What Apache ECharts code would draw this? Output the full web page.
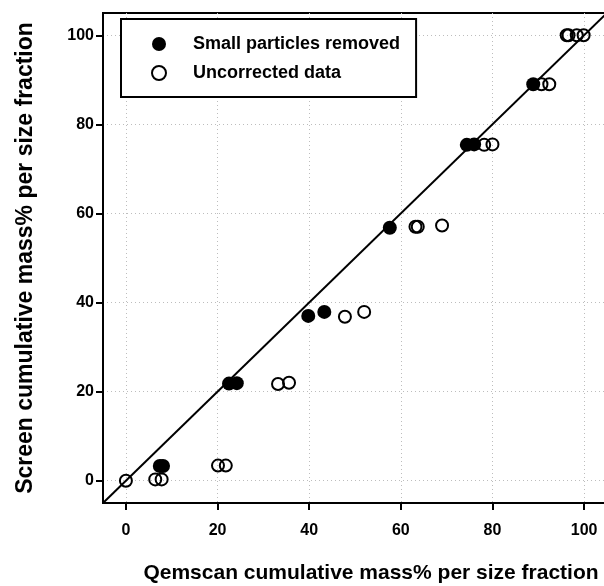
<!DOCTYPE html>
<html>
<head>
<meta charset="utf-8">
<script src="https://cdn.jsdelivr.net/npm/echarts@6/dist/echarts.min.js"></script>
<style>
  html, body { margin: 0; padding: 0; background: #fff; }
  #chart { width: 604px; height: 586px; }
</style>
</head>
<body>
<div id="chart"></div>
<script>
  // values
  var tickValues = [0, 20, 40, 60, 80, 100];

  var removedX = [7.4, 8.1, 22.5, 24.2, 39.8, 43.3, 57.6, 74.4, 76.0, 88.9];
  var removedY = [3.3, 3.3, 21.8, 21.9, 37.0, 37.9, 56.8, 75.4, 75.5, 89.0];

  var uncorrX = [0, 6.4, 7.8, 20.1, 21.8, 33.2, 35.6, 47.8, 52.0, 63.2, 63.7, 69.0,
                 78.2, 80.0, 90.7, 92.4, 96.2, 96.6, 98.4, 99.9];
  var uncorrY = [0, 0.3, 0.3, 3.4, 3.4, 21.7, 22.0, 36.8, 37.9, 57.0, 57.0, 57.3,
                 75.4, 75.5, 89.0, 89.0, 100, 100, 100, 100];

  // 1:1 line
  var lineX = [-5, 105];
  var lineY = [-5, 105];

  function pairs(xs, ys) {
    var out = [];
    for (var i = 0; i < xs.length; i++) out.push([xs[i], ys[i]]);
    return out;
  }

  var font = 'Liberation Sans, Arial, sans-serif';
  var myChart = echarts.init(document.getElementById('chart'));

  var axisCommon = {
    type: 'value',
    min: -5,
    max: 105,
    axisLine: { show: true, onZero: false, lineStyle: { color: '#000', width: 2 } },
    axisTick: { show: true, inside: false, length: 7, customValues: tickValues,
                lineStyle: { color: '#000', width: 2 } },
    axisLabel: { customValues: tickValues, color: '#000', fontSize: 16,
                 fontWeight: 'bold', fontFamily: font },
    splitLine: { show: true, lineStyle: { color: '#bdbdbd', width: 1, type: [1, 3] } },
    nameLocation: 'middle'
  };

  var option = {
    animation: false,
    backgroundColor: '#fff',
    grid: {
      left: 103, right: -3, top: 13, bottom: 83,
      outerBoundsMode: 'none',
      show: true, borderColor: '#000', borderWidth: 2, backgroundColor: 'transparent'
    },
    xAxis: echarts.util.merge({
      name: 'Qemscan cumulative mass% per size fraction',
      nameGap: 60,
      nameTextStyle: { color: '#000', fontSize: 21, fontWeight: 'bold', fontFamily: font,
                       padding: [0, 0, 0, 32] },
      axisLabel: { margin: 20 }
    }, axisCommon),
    yAxis: echarts.util.merge({
      name: 'Screen cumulative mass% per size fraction',
      nameGap: 66,
      nameTextStyle: { color: '#000', fontSize: 23, fontWeight: 'bold', fontFamily: font },
      axisLabel: { margin: 9 }
    }, axisCommon),
    legend: {
      orient: 'vertical',
      left: 121,
      top: 19,
      data: ['Small particles removed', 'Uncorrected data'],
      backgroundColor: '#fff',
      borderColor: '#000',
      borderWidth: 2,
      borderRadius: 0,
      padding: [16, 16, 15, 30],
      itemWidth: 14,
      itemHeight: 14,
      itemGap: 11,
      textStyle: { color: '#000', fontSize: 18, fontWeight: 'bold', fontFamily: font,
                   padding: [0, 0, 0, 22] }
    },
    series: [
      {
        name: 'Small particles removed',
        type: 'scatter',
        symbol: 'circle',
        symbolSize: 14,
        itemStyle: { color: '#000', opacity: 1 },
        data: pairs(removedX, removedY)
      },
      {
        name: 'Uncorrected data',
        type: 'scatter',
        symbol: 'circle',
        symbolSize: 12,
        itemStyle: { color: 'transparent', borderColor: '#000', borderWidth: 2, opacity: 1 },
        data: pairs(uncorrX, uncorrY)
      },
      {
        name: '1:1',
        type: 'line',
        showSymbol: false,
        silent: true,
        z: 5,
        lineStyle: { color: '#000', width: 2 },
        data: pairs(lineX, lineY)
      }
    ]
  };

  myChart.setOption(option);
</script>
</body>
</html>
